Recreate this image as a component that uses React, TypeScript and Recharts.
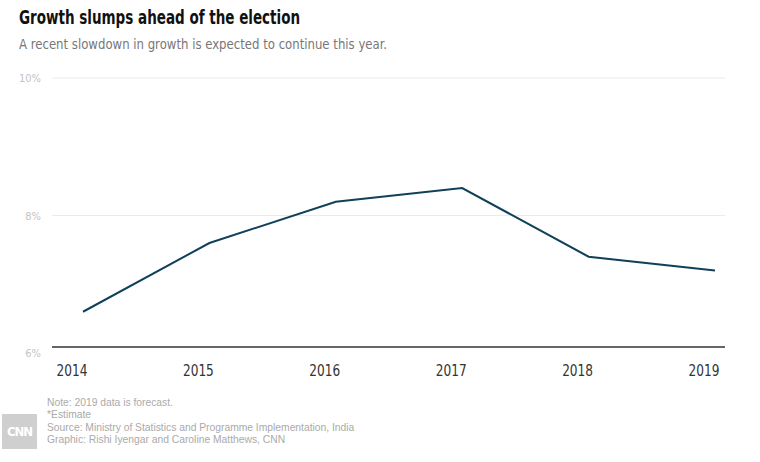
import React from "react";
import { LineChart, Line, XAxis, YAxis, ReferenceLine } from "recharts";

const years = [2014, 2015, 2016, 2017, 2018, 2019];
const growth = [6.6, 7.6, 8.2, 8.4, 7.4, 7.2];
const yTicks = [6, 8, 10];
const gridValues = [8, 10];

const title = "Growth slumps ahead of the election";
const subtitle = "A recent slowdown in growth is expected to continue this year.";
const notes = [
  "Note: 2019 data is forecast.",
  "*Estimate",
  "Source: Ministry of Statistics and Programme Implementation, India",
  "Graphic: Rishi Iyengar and Caroline Matthews, CNN",
];

const data = years.map((y, i) => ({ year: y, value: growth[i] }));

const condensed = "'DejaVu Sans Condensed', 'DejaVu Sans', sans-serif";

const XTick = (props: any) => {
  const { x, y, payload } = props;
  return (
    <text
      x={x - 11}
      y={y}
      dy={15}
      textAnchor="middle"
      fontFamily={condensed}
      fontSize={15}
      fill="#333"
      transform={`translate(${x - 11},0) scale(0.9,1) translate(${-(x - 11)},0)`}
    >
      {payload.value}
    </text>
  );
};

const YTick = (props: any) => {
  const { y, payload } = props;
  return (
    <text
      x={41}
      y={y}
      dy={4}
      textAnchor="end"
      fontFamily={condensed}
      fontSize={11}
      fill="#c4c4c4"
    >
      {payload.value}%
    </text>
  );
};

export default function App() {
  return (
    <div
      style={{
        position: "absolute",
        left: 0,
        top: 0,
        width: 760,
        height: 462,
        background: "#fff",
        overflow: "hidden",
      }}
    >
      <div
        style={{
          position: "absolute",
          left: 19,
          top: 6,
          fontFamily: condensed,
          fontWeight: 700,
          fontSize: 19,
          color: "#111",
          whiteSpace: "nowrap",
          transform: "scaleX(0.79)",
          transformOrigin: "left",
        }}
      >
        {title}
      </div>
      <div
        style={{
          position: "absolute",
          left: 19,
          top: 36,
          fontFamily: condensed,
          fontSize: 14,
          color: "#777",
          whiteSpace: "nowrap",
          transform: "scaleX(0.93)",
          transformOrigin: "left",
        }}
      >
        {subtitle}
      </div>
      <div style={{ position: "absolute", left: 0, top: 0 }}>
        <LineChart
          width={760}
          height={400}
          data={data}
          margin={{ top: 78, right: 35, bottom: 0, left: 0 }}
        >
          {gridValues.map((v) => (
            <ReferenceLine key={v} y={v} stroke="#ebebeb" strokeWidth={1} />
          ))}
          <XAxis
            dataKey="year"
            type="number"
            domain={[years[0], years[years.length - 1]]}
            ticks={years}
            padding={{ left: 31, right: 10 }}
            tickLine={false}
            axisLine={{ stroke: "#333", strokeWidth: 1.3, transform: "translate(0,-6)" }}
            tick={<XTick />}
            height={47}
            interval={0}
          />
          <YAxis
            domain={[6, 10]}
            ticks={yTicks}
            width={52}
            axisLine={false}
            tickLine={false}
            tick={<YTick />}
            interval={0}
          />
          <Line
            type="linear"
            dataKey="value"
            stroke="#10405a"
            strokeWidth={2}
            dot={false}
            isAnimationActive={false}
          />
        </LineChart>
      </div>
      <div
        style={{
          position: "absolute",
          left: 2,
          top: 414,
          width: 35,
          height: 35,
          background: "#cfcfcf",
          color: "#fff",
          fontFamily: condensed,
          fontWeight: 700,
          fontSize: 13,
          lineHeight: "35px",
          textAlign: "center",
          letterSpacing: -1,
        }}
      >
        CNN
      </div>
      <div
        style={{
          position: "absolute",
          left: 47,
          top: 397,
          fontFamily: "'Liberation Sans', Arial, sans-serif",
          fontSize: 10.3,
          lineHeight: "12.3px",
          color: "#aaa",
          whiteSpace: "nowrap",
        }}
      >
        {notes.map((n) => (
          <div key={n}>{n}</div>
        ))}
      </div>
    </div>
  );
}
